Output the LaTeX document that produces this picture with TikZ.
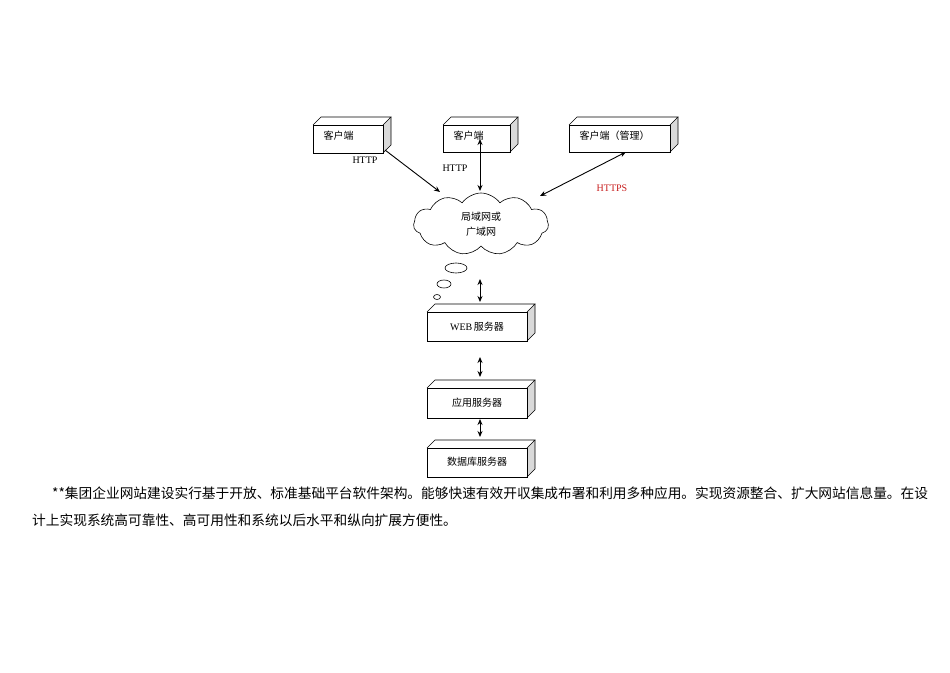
\documentclass[tikz,border=0pt]{standalone}
\usepackage{fontspec}
\setmainfont{Liberation Serif}
\newfontfamily\cjk{Noto Sans CJK SC}
\usetikzlibrary{shapes.symbols,arrows.meta}
\tikzset{
  arr/.style={line width=0.9pt,{Stealth[length=6pt,width=5pt]}-{Stealth[length=6pt,width=5pt]}},
  lbl/.style={font=\fontsize{10}{12}\selectfont},
  txt/.style={font=\cjk\fontsize{10}{12}\selectfont}
}
\newcommand{\boxthree}[5]{% name, x1, y1, x2, y2 (pixel coords, y down)
  \fill[white!70!gray] (#4,#3) -- (#4+8,#3-8) -- (#4+8,#5-8) -- (#4,#5) -- cycle;
  \draw[line width=0.6pt] (#2,#3) -- (#2+8,#3-8) -- (#4+8,#3-8) -- (#4,#3);
  \draw[line width=0.6pt] (#4+8,#3-8) -- (#4+8,#5-8) -- (#4,#5);
  \draw[line width=0.6pt] (#2,#3) rectangle (#4,#5);
}
\begin{document}
\begin{tikzpicture}[x=1pt,y=-1pt]
\useasboundingbox[fill=white] (0,0) rectangle (950,672);
% client boxes
\boxthree{c1}{313}{125}{383}{153}
\node[txt,anchor=west] (c1) at (320,136) {客户端};
\coordinate (c1e) at (385,150);
\boxthree{c2}{443}{125}{510}{152}
\node[txt,anchor=west] (c2) at (450,136) {客户端};
\coordinate (c2e) at (480,139);
\boxthree{c3}{569}{125}{670}{152}
\node[txt,anchor=west] (c3) at (576,136) {客户端（管理）};
\coordinate (c3e) at (626,152);
% cloud
\node[cloud,draw,line width=0.6pt,cloud puffs=11,cloud puff arc=110,aspect=2.3,minimum width=135pt,minimum height=62pt,inner sep=0pt,align=center,font=\cjk\fontsize{10}{15}\selectfont] (cl) at (481,224) {局域网或\\广域网};
\draw[line width=0.6pt] (456,268) ellipse (11 and 5);
\draw[line width=0.6pt] (444,284) ellipse (7 and 4);
\draw[line width=0.6pt] (437,297) ellipse (3.5 and 2.5);
\coordinate (n1) at (440,192);
\coordinate (n2) at (480,191);
\coordinate (n3) at (540,196);
\coordinate (n4) at (480,279);
% servers
\boxthree{w}{427}{312}{527}{341}
\node[txt] (web) at (477,327) {{\rmfamily WEB}\,服务器};
\boxthree{a}{427}{388}{527}{418}
\node[txt] (app) at (477,403) {应用服务器};
\boxthree{d}{427}{448}{527}{477}
\node[txt] (db) at (477,462) {数据库服务器};
\coordinate (w1) at (480,302);
\coordinate (w2) at (480,357);
\coordinate (a1) at (480,377);
\coordinate (a2) at (480,419);
\coordinate (d1) at (480,437);
% arrows
\draw[line width=0.9pt,-{Stealth[length=6pt,width=5pt]}] (c1e) -- (n1);
\draw[arr] (c2e) -- (n2);
\draw[arr] (c3e) -- (n3);
\draw[arr] (n4) -- (w1);
\draw[arr] (w2) -- (a1);
\draw[arr] (a2) -- (d1);
\node[lbl] (h1) at (365,160) {HTTP};
\node[lbl] (h2) at (455,168) {HTTP};
\node[lbl,text={rgb,255:red,200;green,30;blue,30}] (h3) at (612,188) {HTTPS};
% paragraph
\node[anchor=west,inner sep=0pt,font=\cjk\fontsize{13.7}{15}\selectfont] (p1) at (52,493) {**集团企业网站建设实行基于开放、标准基础平台软件架构。能够快速有效开収集成布署和利用多种应用。实现资源整合、扩大网站信息量。在设};
\node[anchor=west,inner sep=0pt,font=\cjk\fontsize{13.7}{15}\selectfont] (p2) at (32,520) {计上实现系统高可靠性、高可用性和系统以后水平和纵向扩展方便性。};
\end{tikzpicture}
\end{document}
